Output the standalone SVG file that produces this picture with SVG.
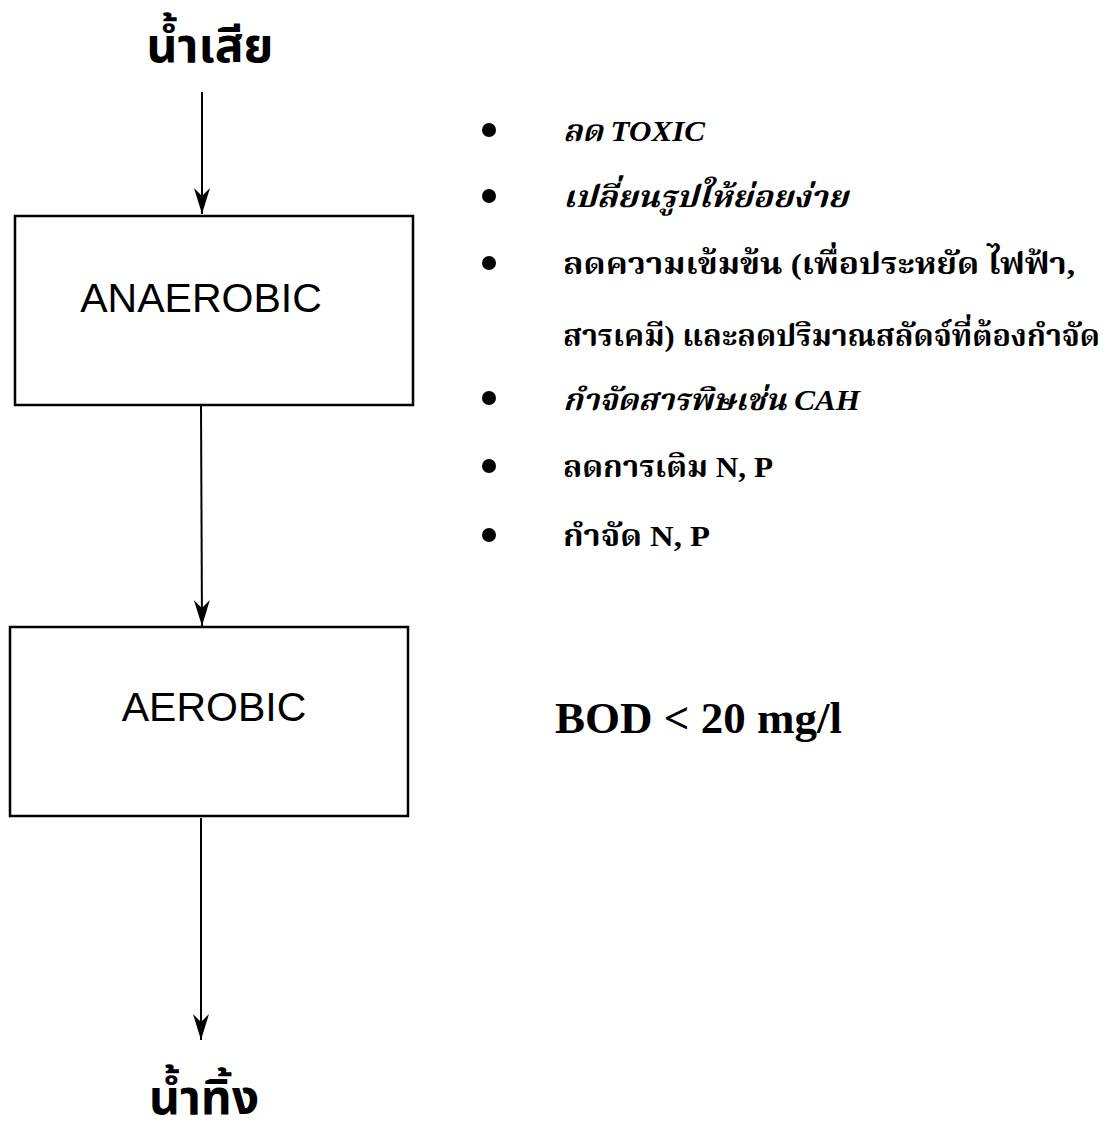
<svg xmlns="http://www.w3.org/2000/svg" width="1110" height="1133" viewBox="0 0 1110 1133">
<defs>
<style>
.box{fill:#fff;stroke:#000;stroke-width:2.5}
.lbl{font-family:"Liberation Sans",Arial,sans-serif;font-size:41px;fill:#000;text-anchor:middle}
.title{font-family:"Noto Sans Thai","Noto Sans","DejaVu Sans",sans-serif;font-size:48px;font-weight:bold;fill:#000;text-anchor:middle}
.bl{font-family:"Liberation Serif","Noto Serif Thai","Noto Sans Thai",serif;font-size:30px;font-weight:bold;fill:#000}
.it{font-style:italic}
.big{font-family:"Liberation Serif","Times New Roman",serif;font-size:45px;font-weight:bold;fill:#000}
.dot{fill:#000}
.conn{stroke:#000;stroke-width:2;fill:none;marker-end:url(#ah)}
</style>
<marker id="ah" viewBox="0 0 26 16" refX="26" refY="8" markerWidth="26" markerHeight="16" markerUnits="userSpaceOnUse" orient="auto">
<path d="M0,0 L26,8 L0,16 L8,8 Z" fill="#000"/>
</marker>
</defs>
<g id="connectors">
<path class="conn" d="M202,92 L202,214"/>
<path class="conn" d="M201,406 L202,626"/>
<path class="conn" d="M201,818 L201,1040"/>
</g>
<g id="in-label"><text class="title" x="210" y="62">น้ำเสีย</text></g>
<g id="out-label"><text class="title" x="204" y="1114">น้ำทิ้ง</text></g>
<g id="anaerobic">
<rect class="box" x="15" y="216" width="398" height="189"/>
<text class="lbl" x="201" y="312">ANAEROBIC</text>
</g>
<g id="aerobic">
<rect class="box" x="10" y="627" width="398" height="189"/>
<text class="lbl" x="214" y="721">AEROBIC</text>
</g>
<g id="bullets">
<circle class="dot" cx="489" cy="130" r="7"/>
<circle class="dot" cx="489" cy="196" r="7"/>
<circle class="dot" cx="489" cy="263" r="7"/>
<circle class="dot" cx="489" cy="398" r="7"/>
<circle class="dot" cx="489" cy="466" r="7"/>
<circle class="dot" cx="489" cy="535" r="7"/>
<text class="bl it" x="563" y="141" textLength="142" lengthAdjust="spacingAndGlyphs">ลด TOXIC</text>
<text class="bl it" x="563" y="207" textLength="285" lengthAdjust="spacingAndGlyphs">เปลี่ยนรูปให้ย่อยง่าย</text>
<text class="bl" x="563" y="274" textLength="512" lengthAdjust="spacingAndGlyphs">ลดความเข้มข้น (เพื่อประหยัด ไฟฟ้า,</text>
<text class="bl" x="563" y="346" textLength="537" lengthAdjust="spacingAndGlyphs">สารเคมี) และลดปริมาณสลัดจ์ที่ต้องกำจัด</text>
<text class="bl it" x="563" y="410" textLength="297" lengthAdjust="spacingAndGlyphs">กำจัดสารพิษเช่น CAH</text>
<text class="bl" x="563" y="477" textLength="210" lengthAdjust="spacingAndGlyphs">ลดการเติม N, P</text>
<text class="bl" x="563" y="546" textLength="147" lengthAdjust="spacingAndGlyphs">กำจัด N, P</text>
</g>
<g id="bod"><text class="big" x="555" y="733">BOD &lt; 20 mg/l</text></g>
</svg>
